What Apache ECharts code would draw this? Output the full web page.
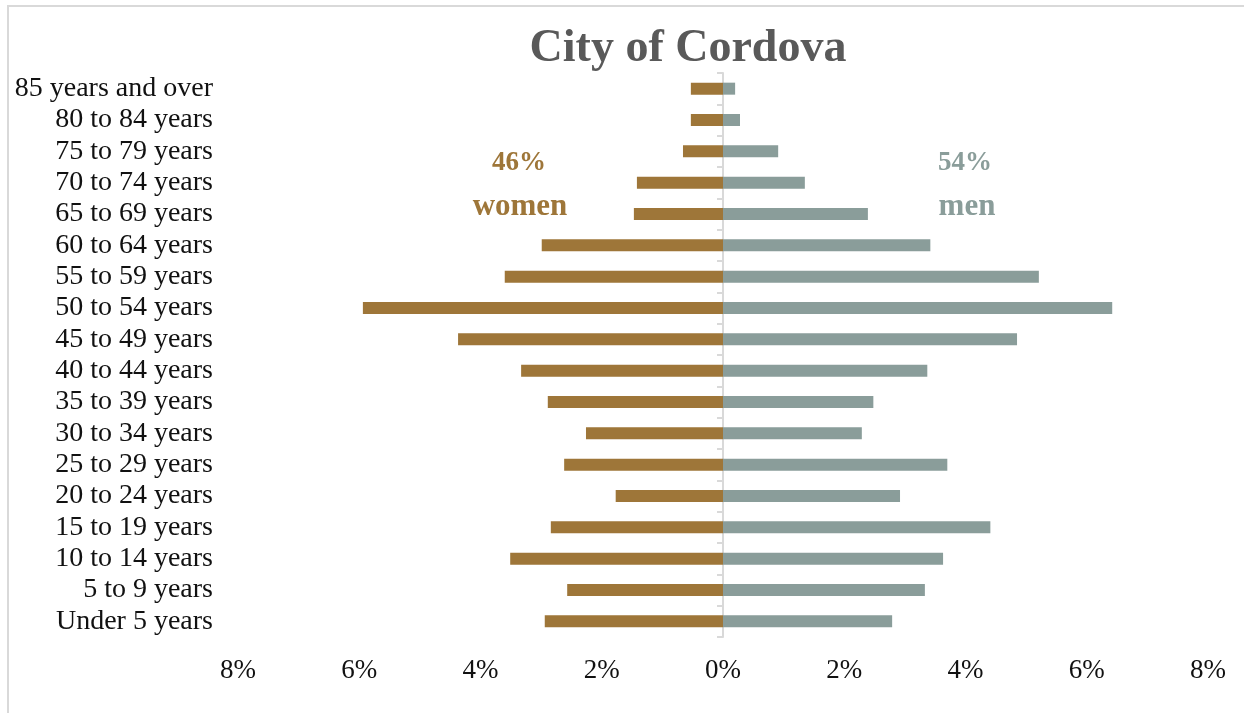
<!DOCTYPE html>
<html>
<head>
<meta charset="utf-8">
<title>City of Cordova</title>
<script src="https://cdn.jsdelivr.net/npm/echarts@6/dist/echarts.min.js"></script>
<style>
  html, body { margin: 0; padding: 0; background: #fff; }
  #chart { width: 1244px; height: 713px; }
</style>
</head>
<body>
<div id="chart"></div>
<script>
// age groups, bottom to top (category axis draws the first one at the bottom)
const ageGroups = [
    'Under 5 years', '5 to 9 years', '10 to 14 years', '15 to 19 years',
    '20 to 24 years', '25 to 29 years', '30 to 34 years', '35 to 39 years',
    '40 to 44 years', '45 to 49 years', '50 to 54 years', '55 to 59 years',
    '60 to 64 years', '65 to 69 years', '70 to 74 years', '75 to 79 years',
    '80 to 84 years', '85 years and over',
];

// share of total population, in percent
const women = [2.94, 2.57, 3.51, 2.84, 1.77, 2.62, 2.26, 2.89, 3.33, 4.37, 5.94, 3.60, 2.99, 1.47, 1.42, 0.66, 0.53, 0.53];
const men = [2.79, 3.33, 3.63, 4.41, 2.92, 3.70, 2.29, 2.48, 3.37, 4.85, 6.42, 5.21, 3.42, 2.39, 1.35, 0.91, 0.28, 0.20];

const womenShare = '46%';
const menShare = '54%';

const womenColor = '#9e7639';
const menColor = '#8a9d9a';
const serif = '"Liberation Serif", "DejaVu Serif", serif';

const chart = echarts.init(document.getElementById('chart'));

chart.setOption({
    animation: false,
    grid: { left: 238, right: 36, top: 73, bottom: 76 },
    xAxis: {
        type: 'value',
        min: -8,
        max: 8,
        interval: 2,
        axisLine: { show: false },
        axisTick: { show: false },
        splitLine: { show: false },
        axisLabel: {
            margin: 20,
            fontFamily: serif,
            fontSize: 27,
            color: '#111',
            formatter: (v) => Math.abs(v) + '%',
        },
    },
    yAxis: [
        {
            type: 'category',
            position: 'left',
            data: ageGroups,
            axisLine: { show: false, onZero: false },
            axisTick: { show: false },
            axisLabel: { interval: 0, margin: 25, fontFamily: serif, fontSize: 28, color: '#111' },
        },
        {
            // the centre line with its ticks, pushed in to sit on 0%
            type: 'category',
            position: 'left',
            offset: -485,
            data: ageGroups,
            axisLine: { onZero: false, lineStyle: { color: '#d9d9d9', width: 2 } },
            axisTick: { show: true, length: 6, lineStyle: { color: '#d9d9d9', width: 2 } },
            axisLabel: { show: false },
        },
    ],
    series: [
        {
            name: 'women',
            type: 'bar',
            data: women.map((v) => -v),
            barWidth: 12,
            barGap: '-100%',
            itemStyle: { color: womenColor },
        },
        {
            name: 'men',
            type: 'bar',
            data: men,
            barWidth: 12,
            itemStyle: { color: menColor },
        },
    ],
    graphic: [
        {
            type: 'rect',
            silent: true,
            shape: { x: 8, y: 6, width: 1260, height: 730 },
            style: { fill: null, stroke: '#d9d9d9', lineWidth: 2 },
        },
        {
            type: 'text',
            x: 688,
            y: 49,
            style: {
                text: 'City of Cordova',
                fontFamily: serif,
                fontWeight: 'bold',
                fontSize: 46,
                fill: '#595959',
                align: 'center',
                verticalAlign: 'middle',
            },
        },
        {
            type: 'text',
            x: 519,
            y: 163,
            style: { text: womenShare, fontFamily: serif, fontWeight: 'bold', fontSize: 27, fill: womenColor, align: 'center', verticalAlign: 'middle' },
        },
        {
            type: 'text',
            x: 520,
            y: 207,
            style: { text: 'women', fontFamily: serif, fontWeight: 'bold', fontSize: 31, fill: womenColor, align: 'center', verticalAlign: 'middle' },
        },
        {
            type: 'text',
            x: 965,
            y: 163,
            style: { text: menShare, fontFamily: serif, fontWeight: 'bold', fontSize: 27, fill: menColor, align: 'center', verticalAlign: 'middle' },
        },
        {
            type: 'text',
            x: 967,
            y: 207,
            style: { text: 'men', fontFamily: serif, fontWeight: 'bold', fontSize: 31, fill: menColor, align: 'center', verticalAlign: 'middle' },
        },
    ],
});

window.addEventListener('resize', () => chart.resize());
</script>
</body>
</html>
